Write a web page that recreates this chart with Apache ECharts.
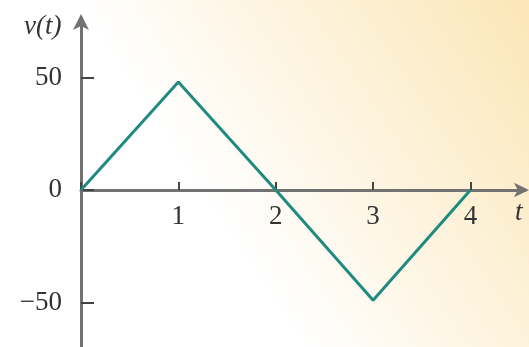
<!DOCTYPE html>
<html>
<head>
<meta charset="utf-8">
<script src="https://cdn.jsdelivr.net/npm/echarts@6/dist/echarts.min.js"></script>
<style>
  html, body { margin: 0; padding: 0; }
  #chart { width: 529px; height: 347px; }
</style>
</head>
<body>
<div id="chart"></div>
<script>
// triangle wave samples
const tValues = [0, 1, 2, 3, 4]
const vValues = [0, 48, 0, -49, 0]
const xTickValues = [0, 1, 2, 3, 4]
const xLabelValues = [1, 2, 3, 4]
const yTickValues = [-50, 0, 50]
const yLabelValues = [-50, 0, 50]

const serif = '"Liberation Serif", "DejaVu Serif", serif'
const axisColor = '#727272'
const fontSize = 27

let myChart = echarts.init(document.getElementById('chart'))
const option = {
  animation: false,
  backgroundColor: new echarts.graphic.LinearGradient(0, 1, 1, 0, [
    { offset: 0, color: '#ffffff' },
    { offset: 0.4, color: '#ffffff' },
    { offset: 1, color: '#fbe6b6' }
  ]),
  grid: [
    // main plot, y axis runs past the bottom edge
    { left: 81, right: 4, top: 18, bottom: 0, containLabel: false, outerBoundsMode: 'none' },
    // upper half only, so its bottom axis sits on v = 0 and carries the t labels
    { left: 81, right: 4, top: 18, height: 172, containLabel: false, outerBoundsMode: 'none' }
  ],
  xAxis: [{
    type: 'value',
    gridIndex: 0,
    min: 0,
    max: 4.56,
    splitLine: { show: false },
    axisLine: {
      onZero: true,
      lineStyle: { color: axisColor, width: 3 },
      symbol: ['none', 'arrow'],
      symbolSize: [11, 15],
      symbolOffset: [0, 4]
    },
    axisTick: {
      inside: true,
      length: 8,
      customValues: xTickValues,
      lineStyle: { color: '#444', width: 2 }
    },
    axisLabel: { show: false }
  }, {
    type: 'value',
    gridIndex: 1,
    min: 0,
    max: 4.56,
    splitLine: { show: false },
    axisLine: { show: false },
    axisTick: { show: false },
    axisLabel: {
      customValues: xLabelValues,
      margin: 13,
      fontFamily: serif,
      fontSize: fontSize,
      color: '#333'
    }
  }],
  yAxis: [{
    type: 'value',
    gridIndex: 0,
    min: -69.78,
    max: 76.44,
    splitLine: { show: false },
    axisLine: {
      lineStyle: { color: axisColor, width: 3 },
      symbol: ['none', 'arrow'],
      symbolSize: [12, 16],
      symbolOffset: [0, 4]
    },
    axisTick: {
      inside: true,
      length: 13,
      customValues: yTickValues,
      lineStyle: { color: '#444', width: 2 }
    },
    axisLabel: {
      customValues: yLabelValues,
      margin: 19,
      fontFamily: serif,
      fontSize: fontSize,
      color: '#333',
      formatter: v => (v < 0 ? '\u2212' + Math.abs(v) : String(v))
    }
  }, {
    type: 'value',
    gridIndex: 1,
    min: 0,
    max: 76.44,
    show: false
  }],
  graphic: [
    {
      type: 'text', left: 24, top: 13,
      style: { text: 'v(t)', font: 'italic ' + fontSize + 'px ' + serif, fill: '#333' }
    },
    {
      type: 'text', left: 515, top: 199,
      style: { text: 't', font: 'italic ' + fontSize + 'px ' + serif, fill: '#333' }
    }
  ],
  series: [{
    type: 'line',
    xAxisIndex: 0,
    yAxisIndex: 0,
    data: tValues.map((t, i) => [t, vValues[i]]),
    showSymbol: false,
    lineStyle: { color: '#1f8a80', width: 3 },
    z: 1
  }]
}
myChart.setOption(option)
</script>
</body>
</html>
